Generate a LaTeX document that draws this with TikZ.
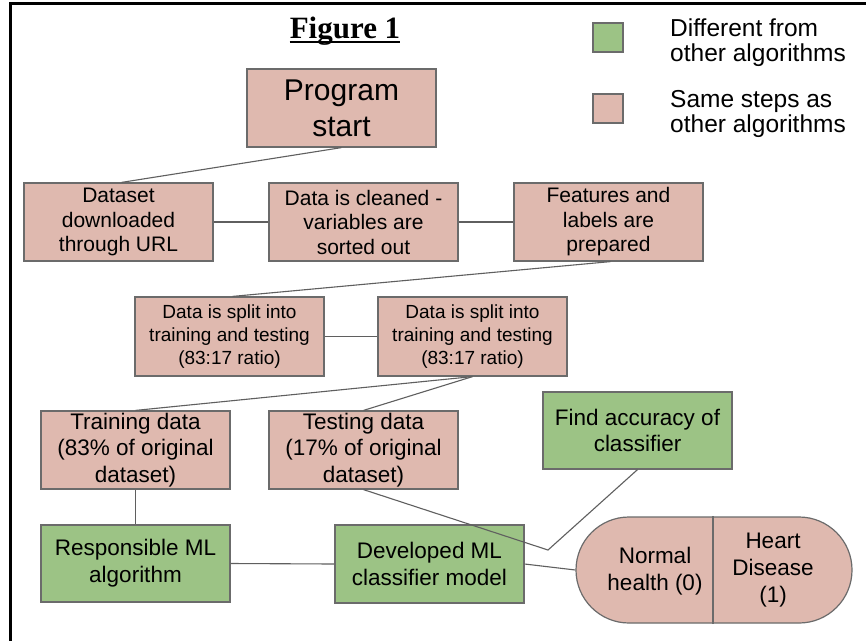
\documentclass[tikz,border=0pt]{standalone}
\usepackage{fontspec}
\setmainfont{Liberation Sans}
\newfontfamily\titlefont{Liberation Serif}
\definecolor{pinkfill}{HTML}{DFB9AF}
\definecolor{greenfill}{HTML}{9CC385}
\definecolor{edgegray}{HTML}{6B6B6B}
\definecolor{linegray}{HTML}{5F5F5F}
\begin{document}
\begin{tikzpicture}[x=1pt,y=-1pt,
  box/.style={draw=edgegray, line width=1.2pt, minimum width=189pt, minimum height=78pt, inner sep=0pt, align=center},
  pinkbox/.style={box, fill=pinkfill},
  greenbox/.style={box, fill=greenfill},
  conn/.style={draw=linegray, line width=1.1pt},
  fbig/.style={font=\fontsize{30}{36}\selectfont},
  frow/.style={font=\fontsize{21}{24.5}\selectfont},
  fsplit/.style={font=\fontsize{19}{22.7}\selectfont},
  fmid/.style={font=\fontsize{22.5}{26.7}\selectfont},
  flegend/.style={font=\fontsize{24.5}{25}\selectfont, align=left, inner sep=0pt, anchor=west},
  legsq/.style={draw=edgegray, line width=1.2pt, minimum width=30pt, minimum height=29pt, inner sep=0pt}
  ]
\useasboundingbox (0,0) rectangle (866,640);
\fill[white] (0,0) rectangle (866,640);
% frame (top and left sides visible)
\draw[line width=3pt, line join=miter] (10.8,641) -- (10.8,3.5) -- (867,3.5);

% title
\node[font=\titlefont\bfseries\fontsize{31}{36}\selectfont, inner sep=0pt, anchor=base] (title) at (345,38) {Figure 1};
\draw[line width=2.2pt] ([yshift=-4pt]title.base west) -- ([yshift=-4pt]title.base east);

% legend
\node[legsq, fill=greenfill] (lg) at (608,37.5) {};
\node[legsq, fill=pinkfill] (lp) at (608,108.5) {};
\node[flegend] (lgt) at (670,43) {Different from\\other algorithms};
\node[flegend] (lpt) at (670,114) {Same steps as\\other algorithms};

% nodes
\node[pinkbox, fbig] (prog) at (341.5,108) {Program\\start};
\node[pinkbox, frow] (ds) at (118.5,222) {Dataset\\downloaded\\through URL};
\node[pinkbox, frow] (cl) at (363.5,222) {Data is cleaned -\\variables are\\sorted out};
\node[pinkbox, frow] (ft) at (608.5,222) {Features and\\labels are\\prepared};
\node[pinkbox, fsplit, minimum height=79pt] (sp1) at (229.5,336.5) {Data is split into\\training and testing\\(83:17 ratio)};
\node[pinkbox, fsplit, minimum height=79pt] (sp2) at (472.5,336.5) {Data is split into\\training and testing\\(83:17 ratio)};
\node[pinkbox, fmid] (tr) at (135.5,450) {Training data\\(83\% of original\\dataset)};
\node[pinkbox, fmid] (te) at (363.5,450) {Testing data\\(17\% of original\\dataset)};
\node[greenbox, fmid, minimum height=77pt] (fa) at (637.5,430.5) {Find accuracy of\\classifier};
\node[greenbox, fmid, minimum height=77pt] (rs) at (135.5,563.5) {Responsible ML\\algorithm};
\node[greenbox, fmid] (dv) at (429.5,564) {Developed ML\\classifier model};
\node[draw=edgegray, line width=1.2pt, fill=pinkfill, rounded corners=53pt, minimum width=276pt, minimum height=106pt, inner sep=0pt] (cap) at (714,570) {};
\draw[draw=edgegray, line width=1.2pt] ([xshift=-1pt]cap.north) -- ([xshift=-1pt]cap.south);
\node[fmid, align=center, inner sep=0pt] (nh) at (655,571) {Normal\\health (0)};
\node[fmid, align=center, inner sep=0pt] (hd) at (773,570) {Heart\\Disease\\(1)};

% connectors
\coordinate (bend) at (548,550);
\draw[conn] (prog.south) -- ([xshift=3pt]ds.north);
\draw[conn] (ds.east) -- (cl.west);
\draw[conn] (cl.east) -- (ft.west);
\draw[conn] ([xshift=2pt]ft.south) -- ([xshift=3pt]sp1.north);
\draw[conn] (sp1.east) -- (sp2.west);
\draw[conn] (sp2.south) -- (tr.north);
\draw[conn] (sp2.south) -- (te.north);
\draw[conn] (tr.south) -- (rs.north);
\draw[conn] (rs.east) -- (dv.west);
\draw[conn] (te.south) -- (bend) -- (fa.south);
\draw[conn] (dv.east) -- (cap.west);
\end{tikzpicture}
\end{document}
